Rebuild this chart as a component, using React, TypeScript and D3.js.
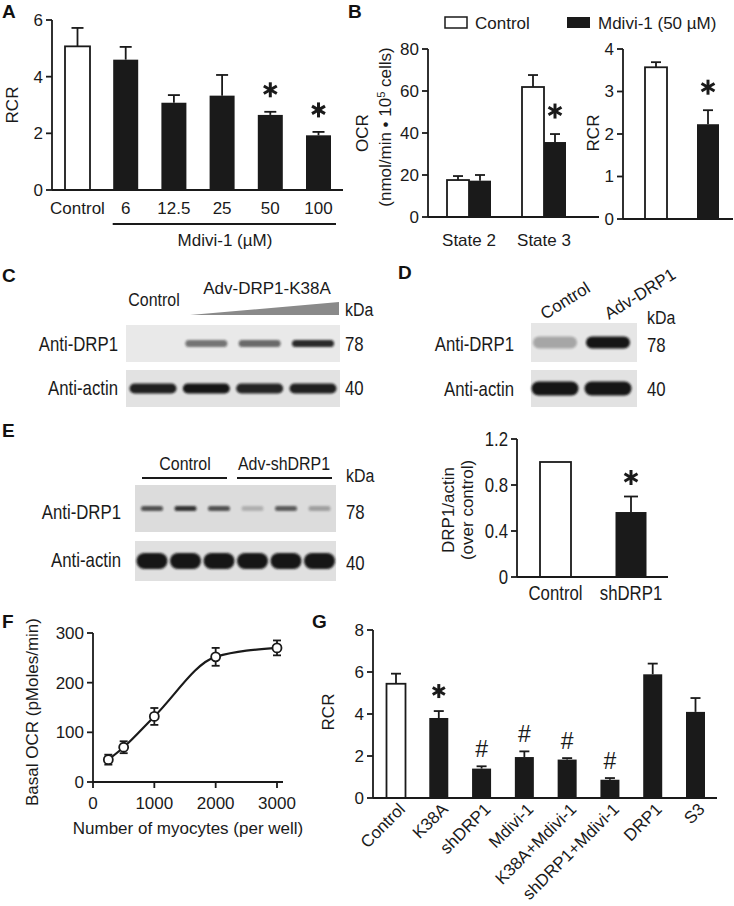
import * as d3 from "d3";

// ---- data ----
const aCats = ["Control", "6", "12.5", "25", "50", "100"];
const aMean = [5.07, 4.6, 3.08, 3.33, 2.65, 1.93];
const aErr = [0.65, 0.45, 0.27, 0.73, 0.11, 0.12];
const aStar = [false, false, false, false, true, true];
const aTicks = [0, 2, 4, 6];

const bStates = ["State 2", "State 3"];
const bOcrCtrl = [17.6, 61.9];
const bOcrCtrlErr = [1.9, 5.7];
const bOcrMdivi = [17.3, 35.7];
const bOcrMdiviErr = [2.7, 3.8];
const bOcrStar = [false, true];
const bOcrTicks = [0, 20, 40, 60, 80];
const bRcrCats = ["Control", "Mdivi-1"];
const bRcrMean = [3.57, 2.23];
const bRcrErr = [0.12, 0.33];
const bRcrStar = [false, true];
const bRcrTicks = [0, 1, 2, 3, 4];

const cLanes = ["Control", "K38A low", "K38A mid", "K38A high"];
const cDrp1 = [0.02, 0.55, 0.6, 0.9];
const cActin = [0.95, 1, 0.92, 0.95];
const dLanes = ["Control", "Adv-DRP1"];
const dDrp1 = [0.3, 1];
const dActin = [1, 1];
const eLanes = ["Control 1", "Control 2", "Control 3", "shDRP1 1", "shDRP1 2", "shDRP1 3"];
const eDrp1 = [0.7, 0.85, 0.7, 0.22, 0.65, 0.3];
const eActin = [1, 1, 1, 1, 1, 1];

const eCats = ["Control", "shDRP1"];
const eMean = [1.0, 0.565];
const eErr = [0, 0.135];
const eStar = [false, true];
const eTicks = [0, 0.4, 0.8, 1.2];

const fCells = [250, 500, 1000, 2000, 3000];
const fOcr = [45, 70, 132, 252, 270];
const fErr = [10, 12, 17, 18, 15];
const fXTicks = [0, 1000, 2000, 3000];
const fYTicks = [0, 100, 200, 300];

const gCats = ["Control", "K38A", "shDRP1", "Mdivi-1", "K38A+Mdivi-1", "shDRP1+Mdivi-1", "DRP1", "S3"];
const gMean = [5.44, 3.81, 1.4, 1.95, 1.83, 0.87, 5.89, 4.1];
const gErr = [0.48, 0.33, 0.11, 0.27, 0.07, 0.08, 0.51, 0.66];
const gMark = ["", "*", "#", "#", "#", "#", "", ""];
const gTicks = [0, 2, 4, 6, 8];

const FONT = "'Liberation Sans', Arial, sans-serif";
const FS = 17;
const INK = "#1a1a1a";
const SW = 1.8;

// condensed text: Liberation Sans squeezed horizontally (no narrow face installed)
function NText({ x, y, anchor = "start", size = 20, children }: any) {
  return (
    <text transform={`translate(${x},${y}) scale(0.84,1)`} dy="0.35em" textAnchor={anchor}
      fontFamily={FONT} fontSize={size} fill={INK}>
      {children}
    </text>
  );
}

function YAxis({ x, y, ticks, fmt = (d: number) => String(d), narrow = false, size = FS, tick = 6 }: any) {
  const [d0, d1] = y.domain();
  return (
    <g>
      <line x1={x} x2={x} y1={y(d0)} y2={y(d1)} stroke={INK} strokeWidth={SW} />
      {ticks.map((t: number) => (
        <g key={t}>
          <line x1={x - tick} x2={x} y1={y(t)} y2={y(t)} stroke={INK} strokeWidth={SW} />
          {narrow ? (
            <NText x={x - tick - 3} y={y(t)} anchor="end" size={size}>{fmt(t)}</NText>
          ) : (
            <text x={x - tick - 3} y={y(t)} dy="0.35em" textAnchor="end" fontFamily={FONT} fontSize={size} fill={INK}>
              {fmt(t)}
            </text>
          )}
        </g>
      ))}
    </g>
  );
}

function ErrUp({ cx, y0, y1, cap = 12 }: any) {
  return (
    <g stroke={INK} strokeWidth={SW}>
      <line x1={cx} x2={cx} y1={y0} y2={y1} />
      <line x1={cx - cap / 2} x2={cx + cap / 2} y1={y1} y2={y1} />
    </g>
  );
}

function Star({ cx, cy, r = 7.5 }: any) {
  return (
    <g stroke={INK} strokeWidth={3}>
      {[90, 30, 150].map((a) => {
        const rad = (a * Math.PI) / 180;
        return (
          <line key={a} x1={cx - r * Math.cos(rad)} y1={cy - r * Math.sin(rad)} x2={cx + r * Math.cos(rad)} y2={cy + r * Math.sin(rad)} />
        );
      })}
    </g>
  );
}

function Bar({ cx, w, y0, y1, open }: any) {
  return open ? (
    <rect x={cx - w / 2} y={y1} width={w} height={y0 - y1} fill="#fff" stroke={INK} strokeWidth={SW} />
  ) : (
    <rect x={cx - w / 2} y={y1} width={w} height={y0 - y1} fill={INK} />
  );
}

function Letter({ x, y, t }: any) {
  return (
    <text x={x} y={y} fontFamily={FONT} fontWeight="bold" fontSize={19} fill="#111">
      {t}
    </text>
  );
}

function Blot({ x0, x1, y0, y1, bg, lanes, vals, bw, bh }: any) {
  const cy = (y0 + y1) / 2;
  return (
    <g>
      <rect x={x0} y={y0} width={x1 - x0} height={y1 - y0} fill={bg} />
      {vals.map((v: number, i: number) =>
        v > 0.05 ? (
          <rect key={i} x={lanes(i) - bw / 2} y={cy - bh / 2} width={bw} height={bh} rx={bh / 2}
            fill="#141414" opacity={v} filter="url(#bandBlur)" />
        ) : null
      )}
    </g>
  );
}

function PanelA() {
  const x = d3.scalePoint<string>().domain(aCats).range([77.5, 318.5]);
  const y = d3.scaleLinear().domain([0, 6]).range([190, 20]);
  return (
    <g>
      <Letter x={2} y={18} t="A" />
      {aCats.map((c, i) => (
        <g key={c}>
          <Bar cx={x(c)} w={25} y0={y(0)} y1={y(aMean[i])} open={i === 0} />
          <ErrUp cx={x(c)} y0={y(aMean[i])} y1={y(aMean[i] + aErr[i])} />
          {aStar[i] && <Star cx={x(c)} cy={y(aMean[i] + aErr[i]) - 22} />}
          <text x={x(c)} y={208} dy="0.35em" textAnchor="middle" fontFamily={FONT} fontSize={FS}>{c}</text>
        </g>
      ))}
      <line x1={52} x2={343} y1={y(0)} y2={y(0)} stroke={INK} strokeWidth={SW} />
      <YAxis x={52} y={y} ticks={aTicks} />
      <line x1={x("6")! - 13} x2={336} y1={224} y2={224} stroke={INK} strokeWidth={SW} />
      <text x={225} y={240} dy="0.35em" textAnchor="middle" fontFamily={FONT} fontSize={FS}>Mdivi-1 (µM)</text>
      <text transform="translate(12,105) rotate(-90)" dy="0.35em" textAnchor="middle" fontFamily={FONT} fontSize={FS}>RCR</text>
    </g>
  );
}

function PanelB() {
  const x = d3.scalePoint<string>().domain(bStates).range([469, 544]);
  const y = d3.scaleLinear().domain([0, 80]).range([217, 49]);
  const x2 = d3.scalePoint<string>().domain(bRcrCats).range([656, 708]);
  const y2 = d3.scaleLinear().domain([0, 4]).range([219, 49]);
  const w = 22;
  return (
    <g>
      <Letter x={348} y={18} t="B" />
      <rect x={445} y={17} width={22} height={11} fill="#fff" stroke={INK} strokeWidth={1.5} />
      <text x={475} y={23} dy="0.35em" fontFamily={FONT} fontSize={FS}>Control</text>
      <rect x={567} y={17} width={23} height={11} fill={INK} />
      <text x={598} y={23} dy="0.35em" fontFamily={FONT} fontSize={FS}>Mdivi-1 (50 µM)</text>

      {bStates.map((s, i) => (
        <g key={s}>
          <Bar cx={x(s)! - w / 2} w={w} y0={y(0)} y1={y(bOcrCtrl[i])} open />
          <ErrUp cx={x(s)! - w / 2} y0={y(bOcrCtrl[i])} y1={y(bOcrCtrl[i] + bOcrCtrlErr[i])} cap={10} />
          <Bar cx={x(s)! + w / 2} w={w} y0={y(0)} y1={y(bOcrMdivi[i])} />
          <ErrUp cx={x(s)! + w / 2} y0={y(bOcrMdivi[i])} y1={y(bOcrMdivi[i] + bOcrMdiviErr[i])} cap={10} />
          {bOcrStar[i] && <Star cx={x(s)! + w / 2} cy={y(bOcrMdivi[i] + bOcrMdiviErr[i]) - 23} />}
          <text x={x(s)} y={240} dy="0.35em" textAnchor="middle" fontFamily={FONT} fontSize={FS}>{s}</text>
        </g>
      ))}
      <line x1={428} x2={599} y1={y(0)} y2={y(0)} stroke={INK} strokeWidth={SW} />
      <YAxis x={428} y={y} ticks={bOcrTicks} />
      <text transform="translate(362,133) rotate(-90)" dy="0.35em" textAnchor="middle" fontFamily={FONT} fontSize={FS}>OCR</text>
      <text transform="translate(385,127) rotate(-90)" dy="0.35em" textAnchor="middle" fontFamily={FONT} fontSize={FS}>
        (nmol/min • 10<tspan baselineShift="super" fontSize={11}>5</tspan> cells)
      </text>

      {bRcrCats.map((c, i) => (
        <g key={c}>
          <Bar cx={x2(c)} w={w} y0={y2(0)} y1={y2(bRcrMean[i])} open={i === 0} />
          <ErrUp cx={x2(c)} y0={y2(bRcrMean[i])} y1={y2(bRcrMean[i] + bRcrErr[i])} cap={10} />
          {bRcrStar[i] && <Star cx={x2(c)} cy={y2(bRcrMean[i] + bRcrErr[i]) - 23} />}
        </g>
      ))}
      <line x1={623} x2={733} y1={y2(0)} y2={y2(0)} stroke={INK} strokeWidth={SW} />
      <YAxis x={623} y={y2} ticks={bRcrTicks} />
      <text transform="translate(593,133) rotate(-90)" dy="0.35em" textAnchor="middle" fontFamily={FONT} fontSize={FS}>RCR</text>
    </g>
  );
}

function PanelC() {
  const lanes = d3.scaleLinear().domain([0, cLanes.length - 1]).range([153, 313]);
  return (
    <g>
      <Letter x={2} y={282} t="C" />
      <NText x={154} y={299} anchor="middle" size={19}>Control</NText>
      <text x={267} y={288} dy="0.35em" textAnchor="middle" fontFamily={FONT} fontSize={FS}>Adv-DRP1-K38A</text>
      <path d="M190,315 L339,302 L339,315 Z" fill="#8a8a8a" />
      <NText x={345} y={309} size={19}>kDa</NText>
      <Blot x0={126} x1={340} y0={325} y1={362} bg="#e9e9e9" lanes={lanes} vals={cDrp1} bw={42} bh={7} />
      <Blot x0={126} x1={340} y0={370} y1={407} bg="#e2e2e2" lanes={lanes} vals={cActin} bw={47} bh={10} />
      <NText x={118} y={344} anchor="end">Anti-DRP1</NText>
      <NText x={118} y={388} anchor="end">Anti-actin</NText>
      <NText x={345} y={344}>78</NText>
      <NText x={345} y={388}>40</NText>
    </g>
  );
}

function PanelD() {
  const lanes = d3.scaleLinear().domain([0, dLanes.length - 1]).range([555, 608]);
  return (
    <g>
      <Letter x={398} y={279} t="D" />
      {dLanes.map((l, i) => (
        <text key={l} transform={`translate(${lanes(i) - 10 + i * 11},320) rotate(-32)`} fontFamily={FONT} fontSize={FS}>{l}</text>
      ))}
      <NText x={647} y={317} size={19}>kDa</NText>
      <Blot x0={531} x1={637} y0={323} y1={362} bg="#e6e6e6" lanes={lanes} vals={dDrp1} bw={44} bh={12} />
      <Blot x0={531} x1={637} y0={370} y1={407} bg="#e2e2e2" lanes={lanes} vals={dActin} bw={47} bh={14} />
      <NText x={514} y={344} anchor="end">Anti-DRP1</NText>
      <NText x={514} y={389} anchor="end">Anti-actin</NText>
      <NText x={647} y={345}>78</NText>
      <NText x={647} y={389}>40</NText>
    </g>
  );
}

function PanelE() {
  const lanes = d3.scaleLinear().domain([0, eLanes.length - 1]).range([152, 319.5]);
  const x = d3.scalePoint<string>().domain(eCats).range([555.5, 631]);
  const y = d3.scaleLinear().domain([0, 1.2]).range([577, 439]);
  return (
    <g>
      <Letter x={2} y={437} t="E" />
      <NText x={185} y={463} anchor="middle" size={19}>Control</NText>
      <NText x={284} y={463} anchor="middle" size={19}>Adv-shDRP1</NText>
      <line x1={142} x2={227} y1={478} y2={478} stroke={INK} strokeWidth={2} />
      <line x1={237} x2={332} y1={478} y2={478} stroke={INK} strokeWidth={2} />
      <NText x={346} y={475} size={19}>kDa</NText>
      <Blot x0={135} x1={336} y0={485} y1={532} bg="#dcdcdc" lanes={lanes} vals={eDrp1} bw={22} bh={5} />
      <Blot x0={135} x1={336} y0={541} y1={581} bg="#e0e0e0" lanes={lanes} vals={eActin} bw={31} bh={16} />
      <NText x={121} y={512} anchor="end">Anti-DRP1</NText>
      <NText x={121} y={560} anchor="end">Anti-actin</NText>
      <NText x={346} y={512}>78</NText>
      <NText x={346} y={563}>40</NText>

      {eCats.map((c, i) => (
        <g key={c}>
          <Bar cx={x(c)} w={31} y0={y(0)} y1={y(eMean[i])} open={i === 0} />
          {eErr[i] > 0 && <ErrUp cx={x(c)} y0={y(eMean[i])} y1={y(eMean[i] + eErr[i])} cap={14} />}
          {eStar[i] && <Star cx={x(c)} cy={y(eMean[i] + eErr[i]) - 19} />}
          <NText x={x(c)} y={593} anchor="middle">{c}</NText>
        </g>
      ))}
      <line x1={517} x2={668} y1={y(0)} y2={y(0)} stroke={INK} strokeWidth={SW} />
      <YAxis x={517} y={y} ticks={eTicks} narrow size={20} fmt={(d: number) => (d === 0 ? "0" : d.toFixed(1))} />
      <text transform="translate(448,510) rotate(-90)" dy="0.35em" textAnchor="middle" fontFamily={FONT} fontSize={FS}>DRP1/actin</text>
      <text transform="translate(467,510) rotate(-90)" dy="0.35em" textAnchor="middle" fontFamily={FONT} fontSize={FS}>(over control)</text>
    </g>
  );
}

function PanelF() {
  const x = d3.scaleLinear().domain([0, 3000]).range([93, 277]);
  const y = d3.scaleLinear().domain([0, 300]).range([782, 633]);
  const pts = fCells.map((c, i) => [c, fOcr[i]] as [number, number]);
  const line = d3.line<[number, number]>().x((d) => x(d[0])).y((d) => y(d[1])).curve(d3.curveMonotoneX);
  return (
    <g>
      <Letter x={2} y={628} t="F" />
      <line x1={93} x2={283} y1={y(0)} y2={y(0)} stroke={INK} strokeWidth={SW} />
      {fXTicks.map((t) => (
        <g key={t}>
          <line x1={x(t)} x2={x(t)} y1={y(0)} y2={y(0) + 6} stroke={INK} strokeWidth={SW} />
          <text x={x(t)} y={803} dy="0.35em" textAnchor="middle" fontFamily={FONT} fontSize={FS}>{t}</text>
        </g>
      ))}
      <YAxis x={93} y={y} ticks={fYTicks} />
      <path d={line(pts)!} fill="none" stroke={INK} strokeWidth={2.2} />
      {pts.map(([c, v], i) => (
        <g key={c} stroke={INK} strokeWidth={SW}>
          <line x1={x(c)} x2={x(c)} y1={y(v - fErr[i])} y2={y(v + fErr[i])} />
          <line x1={x(c) - 4} x2={x(c) + 4} y1={y(v - fErr[i])} y2={y(v - fErr[i])} />
          <line x1={x(c) - 4} x2={x(c) + 4} y1={y(v + fErr[i])} y2={y(v + fErr[i])} />
          <circle cx={x(c)} cy={y(v)} r={4.5} fill="#fff" />
        </g>
      ))}
      <text x={188} y={828} dy="0.35em" textAnchor="middle" fontFamily={FONT} fontSize={FS}>Number of myocytes (per well)</text>
      <text transform="translate(32,712) rotate(-90)" dy="0.35em" textAnchor="middle" fontFamily={FONT} fontSize={FS}>Basal OCR (pMoles/min)</text>
    </g>
  );
}

function PanelG() {
  const x = d3.scalePoint<string>().domain(gCats).range([396, 695.5]);
  const y = d3.scaleLinear().domain([0, 8]).range([798, 630]);
  return (
    <g>
      <Letter x={312} y={628} t="G" />
      {gCats.map((c, i) => (
        <g key={c}>
          <Bar cx={x(c)} w={19} y0={y(0)} y1={y(gMean[i])} open={i === 0} />
          <ErrUp cx={x(c)} y0={y(gMean[i])} y1={y(gMean[i] + gErr[i])} cap={10} />
          {gMark[i] === "*" && <Star cx={x(c)} cy={y(gMean[i] + gErr[i]) - 20} r={7} />}
          {gMark[i] === "#" && (
            <text x={x(c)} y={y(gMean[i] + gErr[i]) - 17} dy="0.35em" textAnchor="middle" fontFamily={FONT} fontSize={23}>#</text>
          )}
          <text transform={`translate(${x(c)! + 6},806) rotate(-45)`} dy="0.35em" textAnchor="end" fontFamily={FONT} fontSize={FS}>{c}</text>
        </g>
      ))}
      <line x1={373} x2={717} y1={y(0)} y2={y(0)} stroke={INK} strokeWidth={SW} />
      <YAxis x={373} y={y} ticks={gTicks} />
      <text transform="translate(328,712) rotate(-90)" dy="0.35em" textAnchor="middle" fontFamily={FONT} fontSize={FS}>RCR</text>
    </g>
  );
}

export default function App() {
  return (
    <svg width={734} height={906} viewBox="0 0 734 906"
      style={{ position: "absolute", left: 0, top: 0, background: "#fff" }} fill={INK}>
      <defs>
        <filter id="bandBlur" x="-20%" y="-80%" width="140%" height="260%">
          <feGaussianBlur stdDeviation="1.3" />
        </filter>
      </defs>
      <rect width={734} height={906} fill="#fff" />
      <PanelA />
      <PanelB />
      <PanelC />
      <PanelD />
      <PanelE />
      <PanelF />
      <PanelG />
    </svg>
  );
}
